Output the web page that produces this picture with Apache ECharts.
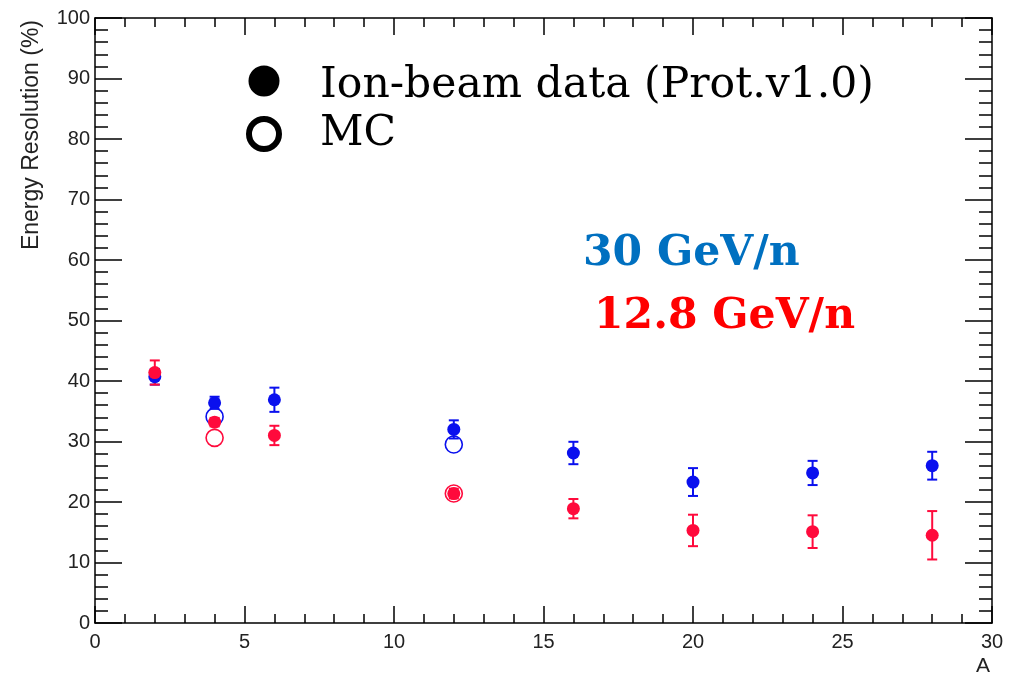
<!DOCTYPE html>
<html><head><meta charset="utf-8">
<script src="https://cdn.jsdelivr.net/npm/echarts@6/dist/echarts.min.js"></script>
<style>html,body{margin:0;padding:0;background:#fff}#c{width:1020px;height:677px}</style>
</head><body><div id="c"></div>
<script>
const massNumbers = [2, 4, 6, 12, 16, 20, 24, 28];
const res30 = [40.7, 36.4, 36.9, 32.0, 28.1, 23.3, 24.8, 26.0];
const err30 = [1.3, 1.0, 2.0, 1.5, 1.85, 2.3, 2.0, 2.3];
const res128 = [41.4, 33.2, 31.0, 21.4, 18.9, 15.3, 15.1, 14.5];
const err128 = [2.0, 0.7, 1.6, 0.8, 1.6, 2.6, 2.7, 4.0];
const mcA = [4, 12];
const mc30 = [34.1, 29.5];
const mc128 = [30.6, 21.4];
const xTicks = [0, 5, 10, 15, 20, 25, 30];
const yTicks = [0, 10, 20, 30, 40, 50, 60, 70, 80, 90, 100];

const blue = '#0a10ee';
const red = '#ff0a3c';

function pts(xs, ys) { return xs.map((x, i) => [x, ys[i]]); }
function errData(xs, ys, es) { return xs.map((x, i) => [x, ys[i] - es[i], ys[i] + es[i]]); }

function errSeries(data, color) {
  return {
    type: 'custom', data: data, z: 3,
    renderItem: function (params, api) {
      const lo = api.coord([api.value(0), api.value(1)]);
      const hi = api.coord([api.value(0), api.value(2)]);
      const w = 5;
      const st = { stroke: color, lineWidth: 2 };
      return { type: 'group', children: [
        { type: 'line', shape: { x1: lo[0], y1: lo[1], x2: hi[0], y2: hi[1] }, style: st },
        { type: 'line', shape: { x1: lo[0] - w, y1: lo[1], x2: lo[0] + w, y2: lo[1] }, style: st },
        { type: 'line', shape: { x1: hi[0] - w, y1: hi[1], x2: hi[0] + w, y2: hi[1] }, style: st }
      ]};
    }
  };
}

const axisLine = { show: true, onZero: false, lineStyle: { color: '#000', width: 1.5 } };
const labelFont = { fontFamily: 'Liberation Sans', fontSize: 20, color: '#222' };
const tickStyle = { color: '#000', width: 1.5 };

function xAx(pos, showLabel) {
  return { type: 'value', min: 0, max: 30, interval: 5, position: pos,
    axisLine: axisLine, splitLine: { show: false },
    axisTick: { show: true, inside: true, length: 17, lineStyle: tickStyle },
    minorTick: { show: true, splitNumber: 5, length: 9, lineStyle: tickStyle },
    axisLabel: showLabel ? Object.assign({ margin: 9, formatter: v => xTicks.includes(v) ? String(v) : '' }, labelFont) : { show: false } };
}
function yAx(pos, showLabel) {
  return { type: 'value', min: 0, max: 100, interval: 10, position: pos,
    axisLine: axisLine, splitLine: { show: false },
    axisTick: { show: true, inside: true, length: 27, lineStyle: tickStyle },
    minorTick: { show: true, splitNumber: 5, length: 13, lineStyle: tickStyle },
    axisLabel: showLabel ? Object.assign({ margin: 5, formatter: v => yTicks.includes(v) ? String(v) : '' }, labelFont) : { show: false } };
}

const chart = echarts.init(document.getElementById('c'));
chart.setOption({
  animation: false,
  backgroundColor: '#fff',
  grid: { left: 95, right: 28, top: 18, bottom: 54, containLabel: false },
  xAxis: [xAx('bottom', true), xAx('top', false)],
  yAxis: [yAx('left', true), yAx('right', false)],
  graphic: [
    { type: 'text', x: 32, y: 20, rotation: Math.PI / 2,
      style: { text: 'Energy Resolution (%)', fontFamily: 'Liberation Sans', fontSize: 23, fill: '#222', align: 'right', verticalAlign: 'middle' } },
    { type: 'text', x: 983, y: 666,
      style: { text: 'A', fontFamily: 'Liberation Sans', fontSize: 21, fill: '#222', align: 'center', verticalAlign: 'middle' } },
    { type: 'circle', shape: { cx: 264, cy: 81, r: 15.5 }, style: { fill: '#000' } },
    { type: 'circle', shape: { cx: 264, cy: 134, r: 15 }, style: { fill: 'none', stroke: '#000', lineWidth: 6 } },
    { type: 'text', x: 320, y: 86,
      style: { text: 'Ion-beam data (Prot.v1.0)', fontFamily: 'DejaVu Serif', fontSize: 42.5, fill: '#000', align: 'left', verticalAlign: 'middle' } },
    { type: 'text', x: 320, y: 134,
      style: { text: 'MC', fontFamily: 'DejaVu Serif', fontSize: 42.5, fill: '#000', align: 'left', verticalAlign: 'middle' } },
    { type: 'text', x: 583, y: 254,
      style: { text: '30 GeV/n', fontFamily: 'DejaVu Serif', fontWeight: 'bold', fontSize: 42.5, fill: '#0070c0', align: 'left', verticalAlign: 'middle' } },
    { type: 'text', x: 594, y: 317,
      style: { text: '12.8 GeV/n', fontFamily: 'DejaVu Serif', fontWeight: 'bold', fontSize: 42.5, fill: '#ff0000', align: 'left', verticalAlign: 'middle' } }
  ],
  series: [
    errSeries(errData(massNumbers, res30, err30), blue),
    { type: 'scatter', data: pts(massNumbers, res30), symbol: 'circle', symbolSize: 13, itemStyle: { color: blue, opacity: 1 }, z: 4 },
    { type: 'scatter', data: pts(mcA, mc30), symbol: 'circle', symbolSize: 17, itemStyle: { color: 'rgba(0,0,0,0)', borderColor: blue, borderWidth: 1.6, opacity: 1 }, z: 5 },
    errSeries(errData(massNumbers, res128, err128), red),
    { type: 'scatter', data: pts(massNumbers, res128), symbol: 'circle', symbolSize: 13, itemStyle: { color: red, opacity: 1 }, z: 6 },
    { type: 'scatter', data: pts(mcA, mc128), symbol: 'circle', symbolSize: 17, itemStyle: { color: 'rgba(0,0,0,0)', borderColor: red, borderWidth: 1.6, opacity: 1 }, z: 7 }
  ]
});
</script></body></html>
